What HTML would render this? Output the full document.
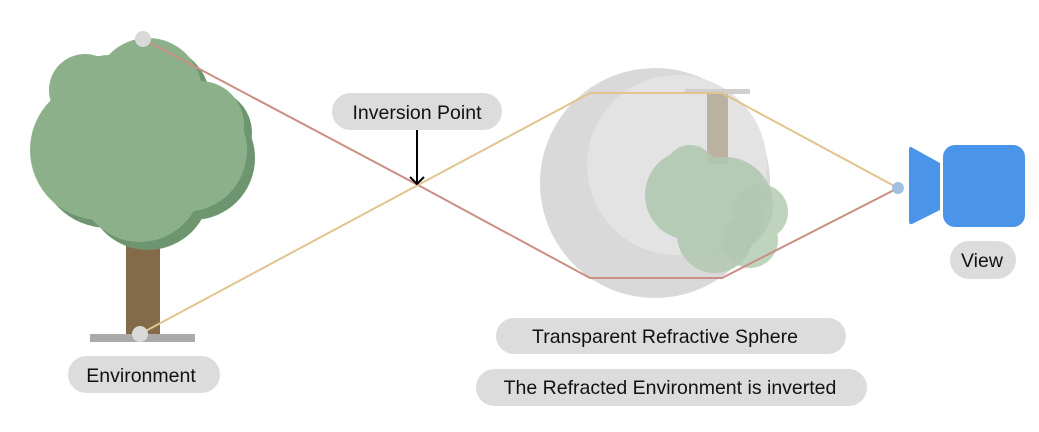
<!DOCTYPE html>
<html><head><style>
html,body{margin:0;padding:0;background:#fff;}
svg{display:block;}
text{font-family:"Liberation Sans",sans-serif;font-size:19.5px;fill:#111;}
</style></head><body>
<svg width="1039" height="432" viewBox="0 0 1039 432" xmlns="http://www.w3.org/2000/svg">
<!-- tree -->
<rect x="126" y="225" width="34" height="110" fill="#836a48"/>
<g fill="#6d9570" transform="translate(8,8)">
<circle cx="100" cy="150" r="70"/><circle cx="185" cy="150" r="62"/><circle cx="140" cy="180" r="62"/>
<circle cx="85" cy="90" r="36"/><circle cx="148" cy="92" r="54"/><circle cx="200" cy="125" r="44"/>
</g>
<g fill="#8bb08a">
<circle cx="100" cy="150" r="70"/><circle cx="185" cy="150" r="62"/><circle cx="140" cy="180" r="62"/>
<circle cx="85" cy="90" r="36"/><circle cx="148" cy="92" r="54"/><circle cx="200" cy="125" r="44"/>
<circle cx="110" cy="115" r="60"/>
</g>
<rect x="90" y="334" width="105" height="8" fill="#aaaaaa"/>
<!-- sphere -->
<circle cx="655" cy="183" r="115" fill="#d9d9d9"/>
<circle cx="677" cy="165" r="90" fill="#e3e3e3"/>
<rect x="685" y="89" width="65" height="5" fill="#cfcfcf"/>
<rect x="707" y="94" width="21" height="70" fill="#bcb2a2"/>
<g fill="#a9c6a8" opacity="0.75">
<circle cx="760" cy="212" r="28"/><circle cx="750" cy="240" r="28"/>
</g>
<g fill="#b2c9b1" opacity="0.9">
<circle cx="690" cy="195" r="45"/><circle cx="725" cy="205" r="48"/><circle cx="715" cy="235" r="38"/>
<circle cx="672" cy="190" r="25"/><circle cx="690" cy="170" r="25"/>
</g>
<!-- rays -->
<polyline points="143,39 418,185 590,278 722,278 898,188" fill="none" stroke="#c98e86" stroke-width="2"/>
<polyline points="140,334 418,185 590,93 722,93 898,188" fill="none" stroke="#e2c48e" stroke-width="2"/>
<circle cx="143" cy="39" r="8" fill="#d9d9d9"/>
<circle cx="140" cy="334" r="8" fill="#d9d9d9"/>
<circle cx="898" cy="188" r="6" fill="#9fc0e3"/>
<!-- camera -->
<rect x="943" y="145" width="82" height="82" rx="12" fill="#4a94ea"/>
<path d="M911,147 Q909,146 909,150 L909,221 Q909,225 912,224 L940,210 L940,163 Z" fill="#4a94ea"/>
<!-- labels -->
<rect x="332" y="93" width="170" height="37" rx="18.5" fill="#dcdcdc"/>
<text x="417" y="119" text-anchor="middle">Inversion Point</text>
<line x1="417" y1="130" x2="417" y2="184" stroke="#000" stroke-width="2"/>
<polyline points="410,177 417,184 424,177" fill="none" stroke="#000" stroke-width="2"/>
<rect x="68" y="356" width="152" height="37" rx="18.5" fill="#dcdcdc"/>
<text x="141" y="382" text-anchor="middle">Environment</text>
<rect x="950" y="241" width="66" height="38" rx="19" fill="#dcdcdc"/>
<text x="982" y="267" text-anchor="middle">View</text>
<rect x="496" y="318" width="350" height="36" rx="18" fill="#dcdcdc"/>
<text x="665" y="343" text-anchor="middle">Transparent Refractive Sphere</text>
<rect x="476" y="369" width="391" height="37" rx="18.5" fill="#dcdcdc"/>
<text x="670" y="394" text-anchor="middle">The Refracted Environment is inverted</text>
</svg>
</body></html>
